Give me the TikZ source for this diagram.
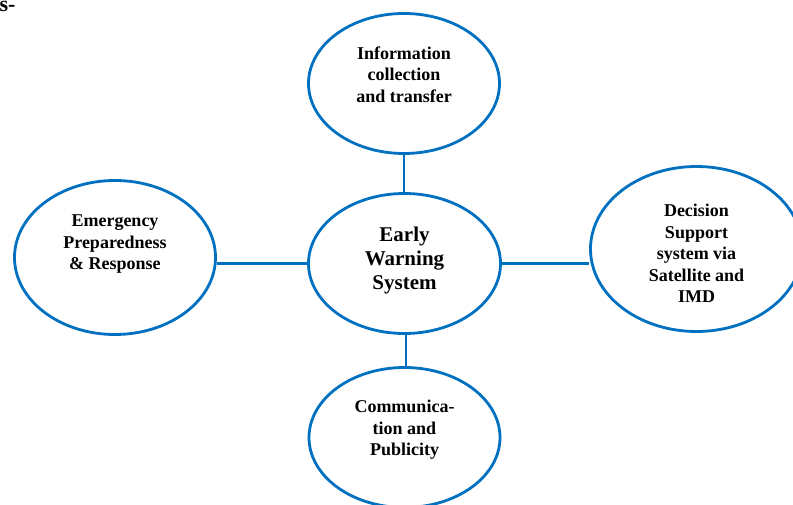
\documentclass[tikz,border=0pt]{standalone}
\usepackage{fontspec}
\setmainfont{Liberation Serif}
\usepackage{xcolor}
\usetikzlibrary{shapes.geometric,calc}
\definecolor{ewsblue}{RGB}{0,112,192}
\begin{document}
\begin{tikzpicture}[x=1pt,y=-1pt,
  bubble/.style={ellipse,draw=ewsblue,line width=2.8pt,inner sep=0pt},
  txt/.style={align=center,font=\bfseries\fontsize{18}{21.5}\selectfont},
  link/.style={draw=ewsblue,line width=2.8pt}]
\useasboundingbox (0,0) rectangle (793,505);
\clip (0,0) rectangle (793,505);
\node [anchor=base east,font=\bfseries\fontsize{22}{24}\selectfont] (frag) at (19,12) {s-};
% ellipses
\node [bubble,minimum width=192,minimum height=140] (ews) at (404.5,263.5) {};
\node [bubble,minimum width=191,minimum height=140] (info) at (404,83.5) {};
\node [bubble,minimum width=191,minimum height=140] (comm) at (404.5,437.5) {};
\node [bubble,minimum width=201,minimum height=154] (emr) at (115,257.5) {};
\node [bubble,minimum width=212,minimum height=165] (dss) at (696.5,249) {};
% texts
\node [align=center,font=\bfseries\fontsize{21}{24}\selectfont] (ewst) at ([yshift=3.5]ews) {Early\\Warning\\System};
\node [txt] (infot) at ([yshift=9]info) {Information\\collection\\and transfer};
\node [txt] (commt) at ([yshift=7.5]comm) {Communica-\\tion and\\Publicity};
\node [txt] (emrt) at ([yshift=13]emr) {Emergency\\Preparedness\\\& Response};
\node [txt] (dsst) at ([yshift=-4.5]dss) {Decision\\Support\\system via\\Satellite and\\IMD};
% connectors
\draw [link] (info.south) -- (info.south |- ews.north);
\draw [link] ([xshift=1.5]ews.south) -- ([xshift=1.5]ews.south |- comm.north);
\draw [link] (ews.west) -- (ews.west -| emr.east);
\draw [link] (ews.east) -- (ews.east -| dss.west);
\end{tikzpicture}
\end{document}
